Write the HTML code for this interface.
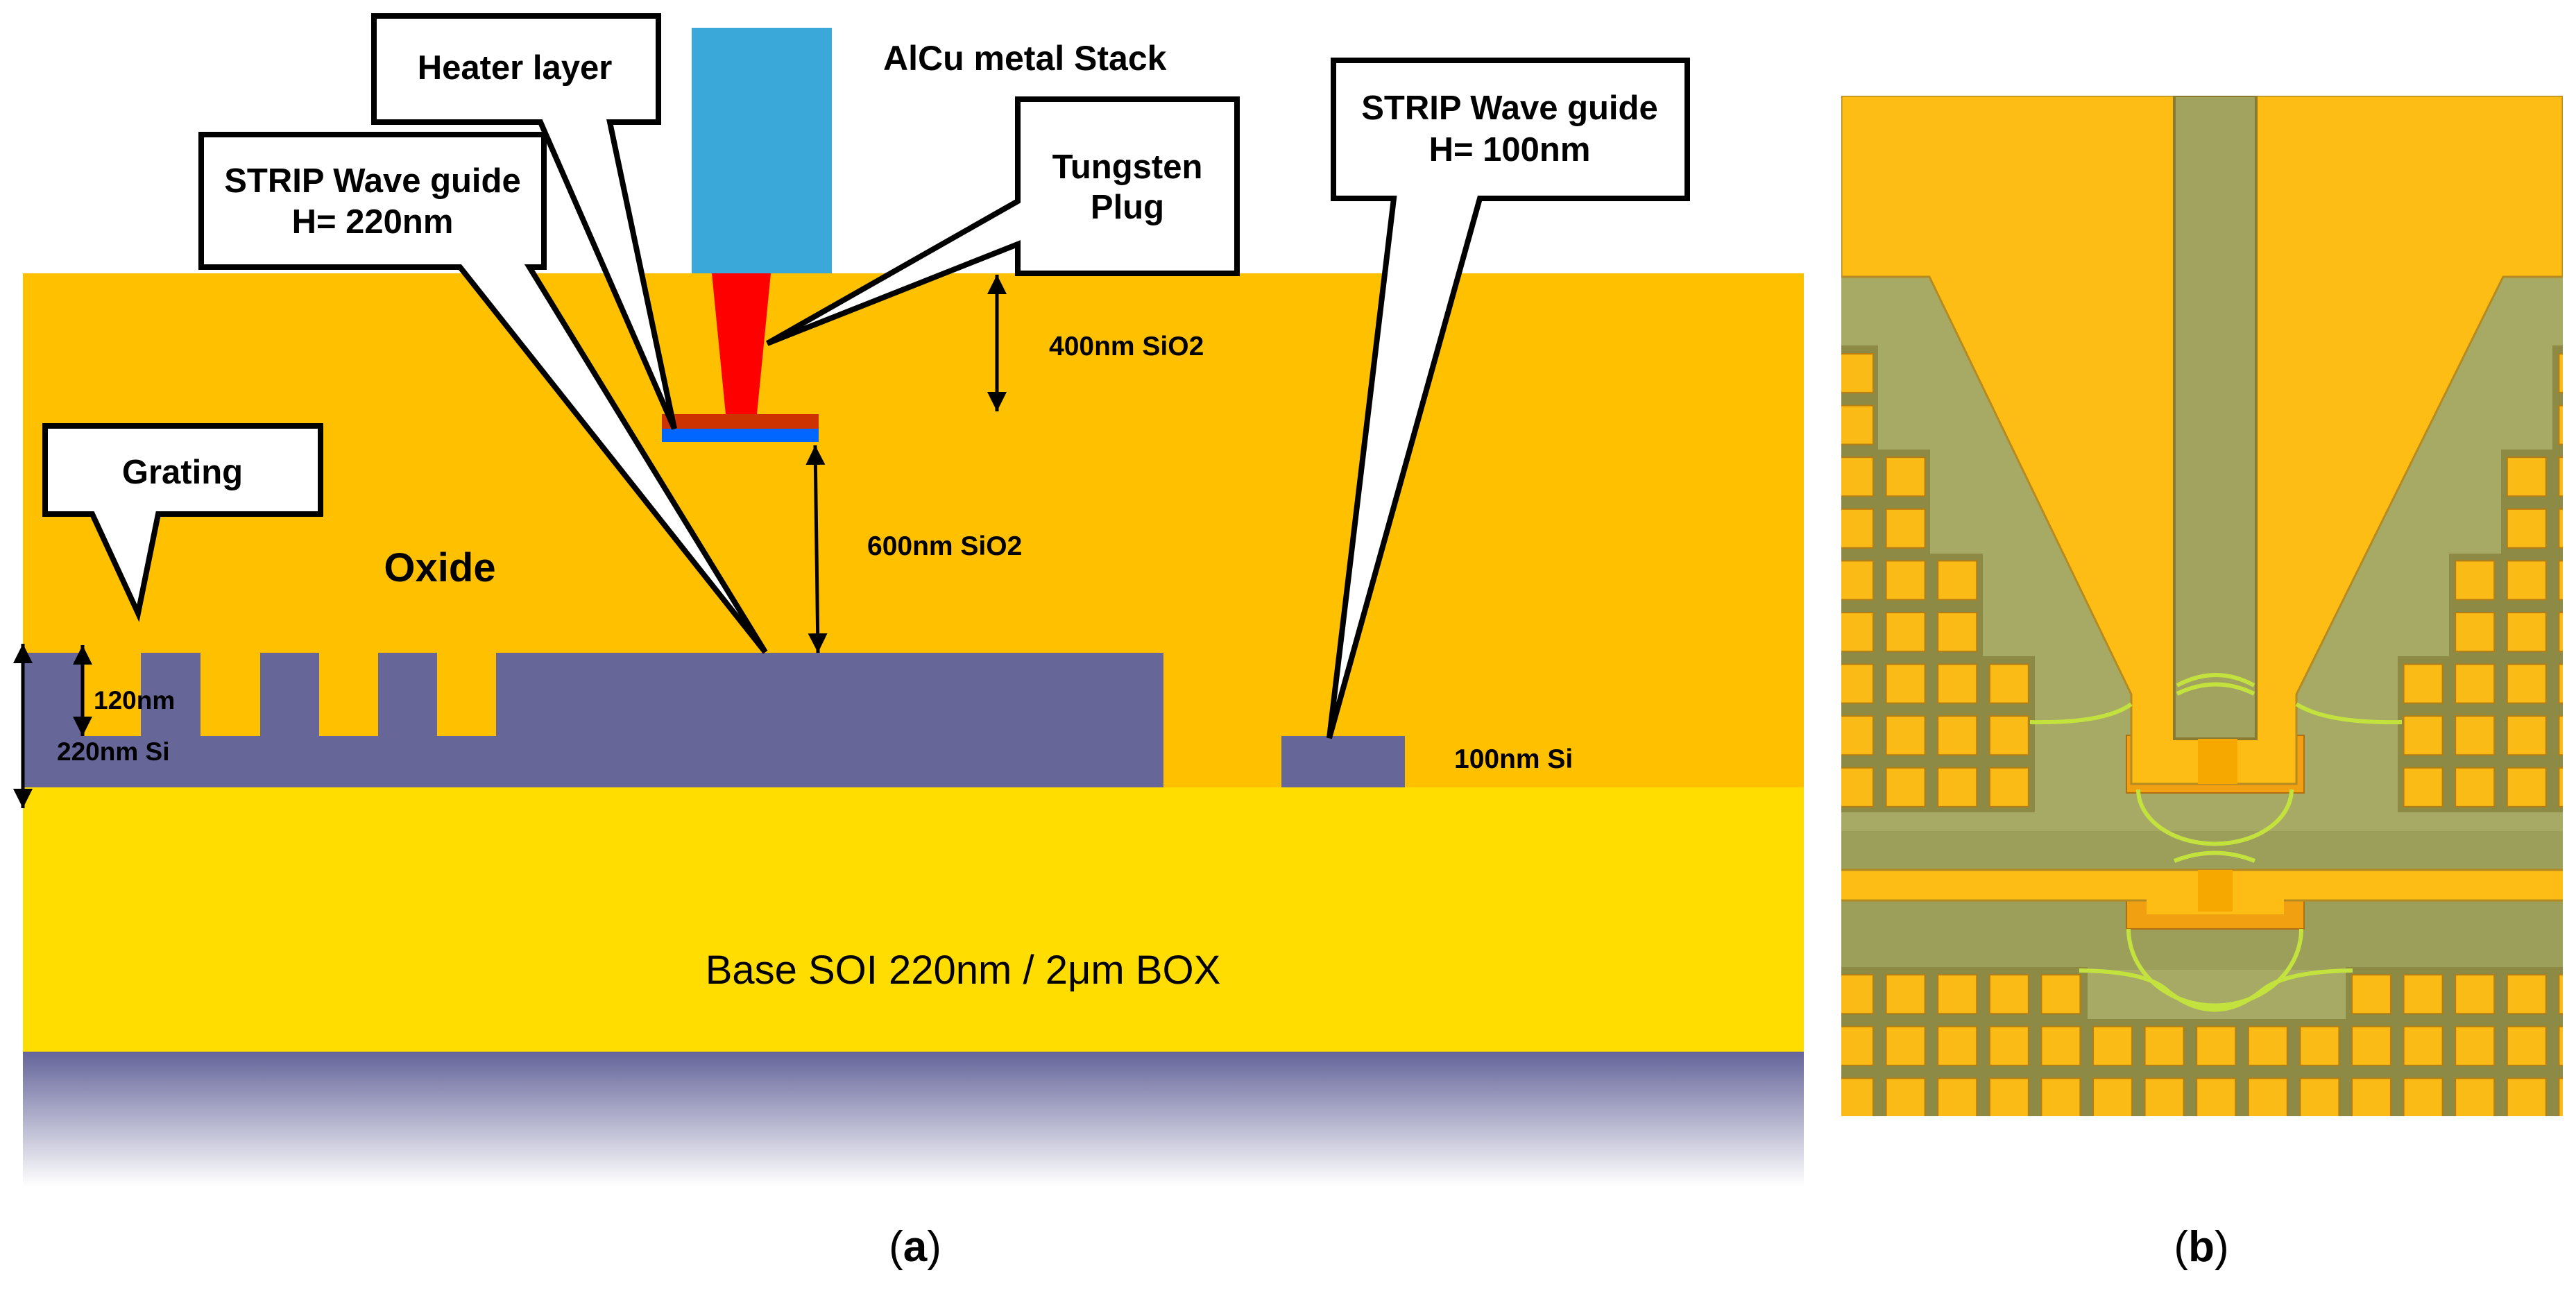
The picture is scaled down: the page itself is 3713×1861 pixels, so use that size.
<!DOCTYPE html>
<html><head><meta charset="utf-8"><style>
html,body{margin:0;padding:0;background:#fff;}
svg{display:block;}
text{font-family:"Liberation Sans",Arial,sans-serif;}
</style></head><body>
<svg width="3713" height="1861" viewBox="0 0 3713 1861" xmlns="http://www.w3.org/2000/svg">
<defs>
<linearGradient id="sub" x1="0" y1="0" x2="0" y2="1">
<stop offset="0" stop-color="#64649a"/><stop offset="1" stop-color="#ffffff"/>
</linearGradient>
<marker id="ah" markerWidth="28" markerHeight="28" refX="10" refY="5" orient="auto-start-reverse" markerUnits="userSpaceOnUse" viewBox="0 0 10 10">
<path d="M0,0 L10,5 L0,10 Z" fill="#000"/>
</marker>
<pattern id="sq" patternUnits="userSpaceOnUse" x="-12" y="370" width="74.6" height="74.6">
<rect x="0" y="0" width="74.6" height="74.6" fill="#8d8a45"/>
<rect x="1" y="1" width="58" height="58" fill="#b57d12"/>
<rect x="3" y="3" width="54" height="54" fill="#fbbb16"/>
</pattern>
<clipPath id="pc"><rect x="0" y="0" width="1040" height="1471"/></clipPath>
</defs>

<rect x="33" y="394" width="2567" height="741" fill="#ffc000"/>
<rect x="33" y="1135" width="2567" height="381" fill="#ffdd00"/>
<rect x="33" y="1516" width="2567" height="194" fill="url(#sub)"/>
<path d="M33,941 H118 V1061 H203 V941 H289 V1061 H375 V941 H460 V1061 H545 V941 H630 V1061 H715 V941 H1677 V1135 H33 Z" fill="#666699"/>
<rect x="1847" y="1061" width="178" height="74" fill="#666699"/>
<rect x="997" y="40" width="202" height="354" fill="#3aa8d8"/>
<polygon points="1026,394 1111,394 1091,597 1046,597" fill="#ff0000"/>
<rect x="954" y="597" width="226" height="21" fill="#cc3300"/>
<rect x="954" y="618" width="226" height="19" fill="#0066ff"/>

<g stroke="#000" stroke-width="5" fill="none">
<line x1="33" y1="928" x2="33" y2="1165" marker-start="url(#ah)" marker-end="url(#ah)"/>
<line x1="119" y1="930" x2="119" y2="1061" marker-start="url(#ah)" marker-end="url(#ah)"/>
<line x1="1175" y1="642" x2="1179" y2="941" marker-start="url(#ah)" marker-end="url(#ah)"/>
<line x1="1437" y1="396" x2="1437" y2="593" marker-start="url(#ah)" marker-end="url(#ah)"/>
</g>

<g fill="#fff" stroke="#000" stroke-width="8" stroke-linejoin="miter">
<path d="M539,23 H949 V176 H879 L972,618 L779,176 H539 Z"/>
<path d="M290,194 H784 V385 H763 L1103,940 L663,385 H290 Z"/>
<path d="M65,614 H462 V741 H228 L199,884 L133,741 H65 Z"/>
<path d="M1467,143 H1783 V394 H1467 V352 L1106,495 L1467,290 Z"/>
<path d="M1922,87 H2432 V286 H2133 L1916,1064 L2009,286 H1922 Z"/>
</g>

<g font-weight="bold" fill="#000" font-size="49">
<text x="742" y="114" text-anchor="middle">Heater layer</text>
<text x="537" y="277" text-anchor="middle">STRIP Wave guide</text>
<text x="537" y="336" text-anchor="middle">H= 220nm</text>
<text x="263" y="697" text-anchor="middle">Grating</text>
<text x="1625" y="257" text-anchor="middle">Tungsten</text>
<text x="1625" y="315" text-anchor="middle">Plug</text>
<text x="2176" y="172" text-anchor="middle">STRIP Wave guide</text>
<text x="2176" y="232" text-anchor="middle">H= 100nm</text>
<text x="1273" y="101" font-size="50">AlCu metal Stack</text>
<text x="634" y="838" text-anchor="middle" font-size="58">Oxide</text>
<g font-size="39">
<text x="1512" y="512">400nm  SiO2</text>
<text x="1250" y="800">600nm  SiO2</text>
<text x="135" y="1022" font-size="37">120nm</text>
<text x="82" y="1096" font-size="37">220nm  Si</text>
<text x="2096" y="1107">100nm  Si</text>
</g>
</g>
<text x="1388" y="1418" text-anchor="middle" font-size="58" fill="#000">Base SOI 220nm / 2μm BOX</text>
<text x="1319" y="1818" text-anchor="middle" font-size="62" font-family="Liberation Serif,serif">(<tspan font-weight="bold">a</tspan>)</text>
<text x="3173" y="1818" text-anchor="middle" font-size="62" font-family="Liberation Serif,serif">(<tspan font-weight="bold">b</tspan>)</text>

<g transform="translate(2654,138)" clip-path="url(#pc)">
<rect x="0" y="0" width="1040" height="1471" fill="#a6aa64"/>
<rect x="0" y="1060" width="1040" height="200" fill="#9c9f5a"/>
<polygon points="-12,360 53,360 53,510 128,510 128,660 204,660 204,808 279,808 279,1033 -12,1033" fill="url(#sq)"/>
<polygon points="1040,360 1025,360 1025,510 951,510 951,660 876,660 876,808 802,808 802,1033 1040,1033" fill="url(#sq)"/>
<rect x="-12" y="1256" width="367" height="75" fill="url(#sq)"/>
<rect x="727" y="1256" width="320" height="75" fill="url(#sq)"/>
<rect x="-12" y="1331" width="1060" height="145" fill="url(#sq)"/>
<rect x="411" y="922" width="256" height="83" fill="#f0a010" stroke="#b07010" stroke-width="2"/>
<polygon points="0,0 1040,0 1040,261 954,261 656,863 656,992 418,992 418,863 127,261 0,261" fill="#fdbd14" stroke="#b58a20" stroke-width="3"/>
<rect x="480" y="0" width="118" height="927" fill="#a1a35e" stroke="#8a7a30" stroke-width="4"/>
<rect x="514" y="927" width="57" height="65" fill="#f7a800"/>
<rect x="411" y="1160" width="256" height="41" fill="#f0a010" stroke="#b07010" stroke-width="2"/>
<rect x="-5" y="1116" width="1050" height="44" fill="#fdbd14" stroke="#b58a20" stroke-width="3"/>
<rect x="440" y="1150" width="198" height="30" fill="#fdbd14"/>
<rect x="514" y="1116" width="50" height="60" fill="#f7a800"/>
<g fill="none" stroke="#c4e23e" stroke-width="6">
<path d="M428,1000 A110,78 0 0 0 649,1000"/>
<path d="M480,1103 Q538,1080 596,1103"/>
<path d="M414,1201 A124,110 0 0 0 663,1201"/>
<path d="M484,850 Q540,820 595,850"/>
<path d="M484,862 Q540,835 595,862"/>
<path d="M272,903 Q380,905 418,877"/>
<path d="M808,903 Q700,905 656,877"/>
<path d="M343,1261 Q440,1262 470,1290 Q538,1345 606,1290 Q640,1262 737,1261"/>
</g>
</g>
</svg>
</body></html>
